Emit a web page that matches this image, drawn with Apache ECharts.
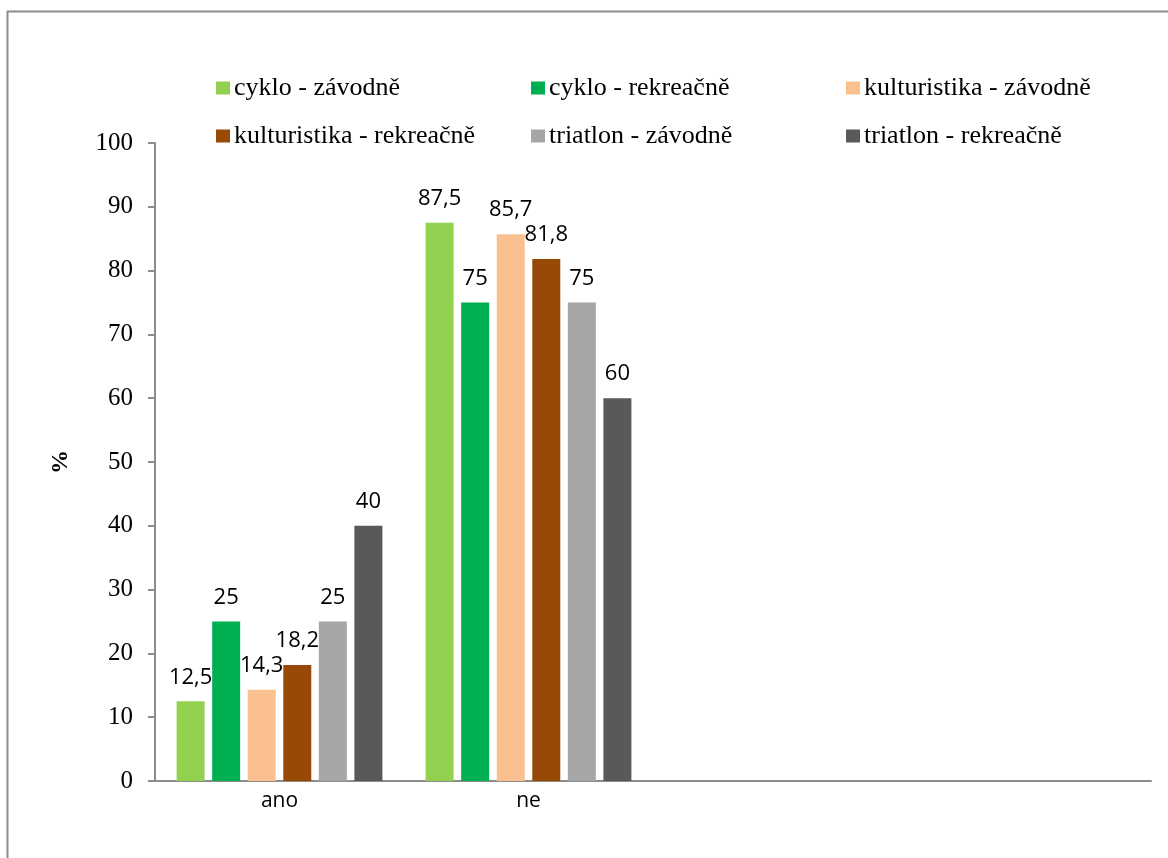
<!DOCTYPE html>
<html>
<head>
<meta charset="utf-8">
<script src="https://cdn.jsdelivr.net/npm/echarts@6/dist/echarts.min.js"></script>
<style>
html,body{margin:0;padding:0;background:#fff;}
#chart{width:1168px;height:858px;}
</style>
</head>
<body>
<div id="chart"></div>
<script>
var myChart = echarts.init(document.getElementById('chart'));

// kategorie na ose X (dve prazdne, jako v originale)
var categories = ['ano', 'ne', '', ''];
// nazvy serii
var seriesNames = ['cyklo - závodně', 'cyklo - rekreačně', 'kulturistika - závodně',
                   'kulturistika - rekreačně', 'triatlon - závodně', 'triatlon - rekreačně'];
var seriesColors = ['#92D050', '#00B050', '#FAC090', '#984807', '#A6A6A6', '#595959'];
// hodnoty v %
var cykloZavodne = [12.5, 87.5, null, null];
var cykloRekreacne = [25, 75, null, null];
var kultZavodne = [14.3, 85.7, null, null];
var kultRekreacne = [18.2, 81.8, null, null];
var triZavodne = [25, 75, null, null];
var triRekreacne = [40, 60, null, null];
var seriesData = [cykloZavodne, cykloRekreacne, kultZavodne, kultRekreacne, triZavodne, triRekreacne];

var series = seriesNames.map(function (name, i) {
    return {
        name: name,
        type: 'bar',
        barWidth: 28,
        barGap: '27%',
        itemStyle: {color: seriesColors[i]},
        label: {
            show: true,
            position: 'top',
            distance: 13,
            color: '#000',
            fontFamily: 'Open Sans',
            fontSize: 22,
            formatter: function (p) {
                return String(p.value).replace('.', ',');
            }
        },
        data: seriesData[i]
    };
});

myChart.setOption({
    animation: false,
    graphic: [{
        type: 'rect',
        shape: {x: 7.5, y: 11.5, width: 1300, height: 1000},
        style: {fill: 'none', stroke: '#8c8c8c', lineWidth: 2}
    }],
    legend: {
        data: seriesNames,
        left: 211,
        top: 70,
        width: 960,
        icon: 'rect',
        itemWidth: 14,
        itemHeight: 13,
        itemGap: 22,
        textStyle: {
            fontFamily: 'Liberation Serif',
            fontSize: 26,
            color: '#000',
            width: 275,
            lineHeight: 25,
            padding: [0, 0, 0, -1]
        }
    },
    grid: {left: 155, top: 143, right: 17, bottom: 77, containLabel: false},
    xAxis: {
        type: 'category',
        data: categories,
        axisLine: {lineStyle: {color: '#8c8c8c', width: 2}},
        axisTick: {show: false},
        axisLabel: {
            color: '#000',
            fontFamily: 'Open Sans',
            fontSize: 21,
            margin: 10
        }
    },
    yAxis: {
        type: 'value',
        min: 0,
        max: 100,
        interval: 10,
        name: '%',
        nameLocation: 'middle',
        nameGap: 82,
        nameRotate: 90,
        nameTextStyle: {
            fontFamily: 'Liberation Serif',
            fontWeight: 'bold',
            fontSize: 24,
            color: '#000'
        },
        axisLine: {show: true, lineStyle: {color: '#8c8c8c', width: 2}},
        axisTick: {show: true, length: 7, lineStyle: {color: '#8c8c8c', width: 2}},
        splitLine: {show: false},
        axisLabel: {
            color: '#000',
            fontFamily: 'Liberation Serif',
            fontSize: 25,
            margin: 22
        }
    },
    series: series
});
</script>
</body>
</html>
